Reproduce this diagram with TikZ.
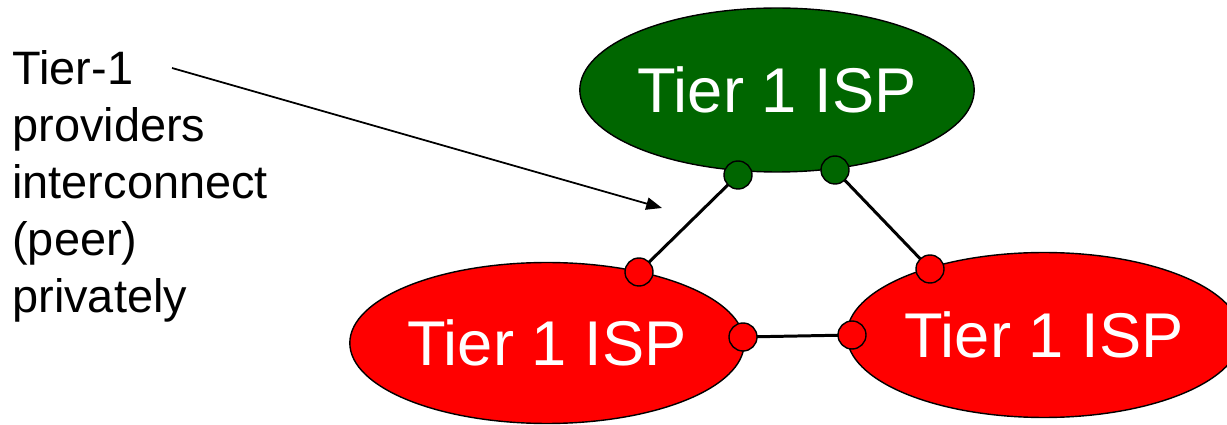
\documentclass[tikz,border=0pt]{standalone}
\usepackage{fontspec}
\setmainfont{Liberation Sans}
\usetikzlibrary{shapes.geometric,arrows.meta}
\definecolor{ispgreen}{RGB}{0,102,0}
\definecolor{ispred}{RGB}{255,0,0}
\tikzset{
  isp/.style={ellipse,draw=black,line width=0.8pt,minimum width=7.8cm,minimum height=3.28cm,inner sep=0pt,
    text=white,font=\fontsize{36}{40}\selectfont},
  port/.style={circle,draw=black,line width=0.8pt,minimum size=0.56cm,inner sep=0pt},
  link/.style={line width=1.7pt}
}
\begin{document}
\begin{tikzpicture}[x=0.02cm,y=-0.02cm]
            \useasboundingbox (0,0) rectangle (1227,425);
            % the three providers
            \node[isp,fill=ispgreen] (top) at (777,90) {Tier 1 ISP};
            \node[isp,fill=ispred,minimum height=3.22cm] (left) at (547,343) {Tier 1 ISP};
            \node[isp,fill=ispred,minimum height=3.3cm] (right) at (1044,335) {Tier 1 ISP};

            % links between the ports
            \draw[link] (738,175) -- (639,272);
            \draw[link] (835,170) -- (930,269);
            \draw[link] (743,337) -- (852,335);

            % ports on the ellipses
            \node[port,fill=ispgreen] (topa) at (738,175) {};
            \node[port,fill=ispgreen] (topb) at (835,170) {};
            \node[port,fill=ispred] (lefta) at (639,272) {};
            \node[port,fill=ispred] (leftb) at (743,337) {};
            \node[port,fill=ispred] (righta) at (930,269) {};
            \node[port,fill=ispred] (rightb) at (852,335) {};

            % note on the left
            \node[anchor=north west,inner sep=0pt,align=left,font=\fontsize{26.7}{32.4}\selectfont] (note) at (12,50)
              {Tier-1\\providers\\interconnect\\(peer)\\privately};
            \coordinate (notefrom) at (172,68);
            \coordinate (noteto) at (662,208);
            \draw[-{Triangle[length=9pt,width=7pt]},line width=1pt] (notefrom) -- (noteto);
          \end{tikzpicture}
\end{document}
